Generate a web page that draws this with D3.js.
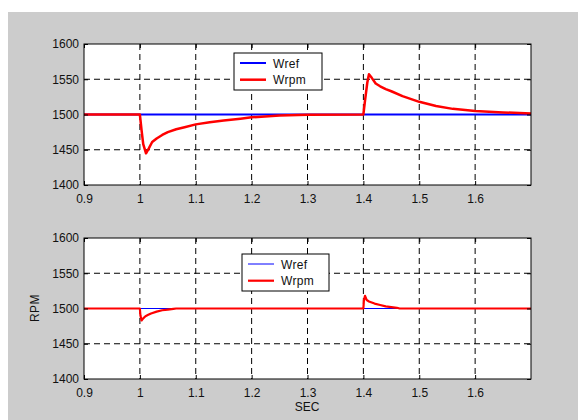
<!DOCTYPE html>
<html>
<head>
<meta charset="utf-8">
<script src="https://cdn.jsdelivr.net/npm/d3@7"></script>
<style>
  body { margin: 0; background: #fff; }
  text { font-family: "Liberation Sans", Arial, sans-serif; }
</style>
</head>
<body>
<div id="chart"></div>
<script>
// time ticks and y ticks
const xTicks = [0.9, 1, 1.1, 1.2, 1.3, 1.4, 1.5, 1.6];
const xTickLabels = ["0.9", "1", "1.1", "1.2", "1.3", "1.4", "1.5", "1.6"];
const yTicks = [1400, 1450, 1500, 1550, 1600];
const seriesNames = ["Wref", "Wrpm"];

// upper plot
const refT = [0.9, 1.7];
const refRpm = [1500, 1500];
const topT = [0.9, 1.0, 1.003, 1.006, 1.011, 1.016, 1.022, 1.03, 1.04, 1.05, 1.065, 1.08, 1.1, 1.125, 1.15, 1.18, 1.2, 1.25, 1.3,
              1.4, 1.403, 1.407, 1.41, 1.415, 1.422, 1.43, 1.44, 1.45, 1.47, 1.5, 1.53, 1.56, 1.6, 1.65, 1.7];
const topRpm = [1500, 1500, 1478, 1458, 1445, 1452, 1461, 1466, 1471, 1475, 1479, 1482, 1486, 1489, 1491.5, 1494, 1496, 1498.5, 1499.7,
                1500, 1520, 1545, 1557, 1552, 1544, 1540, 1536, 1533, 1526, 1518, 1512, 1508, 1505, 1503, 1501.5];

// lower plot
const lowT = [0.9, 1.0, 1.001, 1.003, 1.006, 1.01, 1.015, 1.02, 1.03, 1.04, 1.05, 1.06, 1.065,
              1.4, 1.401, 1.403, 1.406, 1.41, 1.42, 1.43, 1.44, 1.45, 1.46, 1.465, 1.7];
const lowRpm = [1500, 1500, 1490, 1483, 1486, 1489, 1491, 1493, 1495.5, 1497.5, 1498.5, 1499.5, 1500,
                1500, 1512, 1518, 1512, 1510, 1507, 1505, 1503, 1502, 1501, 1500, 1500];

const W = 578, H = 420;
let svg = d3.select("#chart").append("svg").attr("width", W).attr("height", H);

// figure background
svg.append("rect").attr("x", 8).attr("y", 12).attr("width", W - 8).attr("height", H - 12).attr("fill", "#cccccc");

function drawPanel(top, bottom, ref, act, refW, actW, legend) {
    let x = d3.scaleLinear().domain([0.9, 1.7]).range([84, 531]);
    let y = d3.scaleLinear().domain([1400, 1600]).range([bottom, top]);
    let g = svg.append("g");

    g.append("rect").attr("x", x(0.9)).attr("y", top).attr("width", x(1.7) - x(0.9)).attr("height", bottom - top).attr("fill", "#fff");

    // dashed grid
    g.selectAll(".vg").data(xTicks.slice(1)).join("line")
        .attr("x1", d => x(d)).attr("x2", d => x(d)).attr("y1", top).attr("y2", bottom)
        .attr("stroke", "#000").attr("stroke-width", 1).attr("stroke-dasharray", "6,4");
    g.selectAll(".hg").data(yTicks.slice(1, -1)).join("line")
        .attr("x1", x(0.9)).attr("x2", x(1.7)).attr("y1", d => y(d)).attr("y2", d => y(d))
        .attr("stroke", "#000").attr("stroke-width", 1).attr("stroke-dasharray", "6,4");

    let line = d3.line().x(d => x(d[0])).y(d => y(d[1]));
    g.append("path").attr("d", line(d3.zip(ref[0], ref[1])))
        .attr("stroke", "#0000ff").attr("stroke-width", refW).attr("fill", "none");
    g.append("path").attr("d", line(d3.zip(act[0], act[1])))
        .attr("stroke", "#ff0000").attr("stroke-width", actW).attr("fill", "none").attr("stroke-linejoin", "round");

    // axes with inward ticks
    g.append("g").attr("transform", `translate(0,${bottom})`)
        .call(d3.axisBottom(x).tickValues(xTicks).tickFormat((d, i) => xTickLabels[i]).tickSizeInner(-4).tickSizeOuter(0).tickPadding(9));
    g.append("g").attr("transform", `translate(${x(0.9)},0)`)
        .call(d3.axisLeft(y).tickValues(yTicks).tickFormat(d3.format("d")).tickSizeInner(-4).tickSizeOuter(0).tickPadding(5));
    g.append("g").attr("transform", `translate(0,${top})`)
        .call(d3.axisTop(x).tickValues(xTicks).tickFormat("").tickSizeInner(-4).tickSizeOuter(0));
    g.append("g").attr("transform", `translate(${x(1.7)},0)`)
        .call(d3.axisRight(y).tickValues(yTicks).tickFormat("").tickSizeInner(-4).tickSizeOuter(0));
    g.selectAll(".domain").remove();
    g.selectAll(".tick line").attr("stroke", "#000");
    g.selectAll(".tick text").attr("fill", "#111").style("font-size", "12px").style("font-family", '"Liberation Sans", Arial, sans-serif');

    g.append("rect").attr("x", x(0.9)).attr("y", top).attr("width", x(1.7) - x(0.9)).attr("height", bottom - top)
        .attr("fill", "none").attr("stroke", "#000").attr("stroke-width", 1);

    // legend
    let lg = g.append("g");
    lg.append("rect").attr("x", legend.x).attr("y", legend.y).attr("width", legend.w).attr("height", legend.h)
        .attr("fill", "#fff").attr("stroke", "#000").attr("stroke-width", 1);
    const cols = ["#0000ff", "#ff0000"];
    const widths = [legend.refW, actW];
    seriesNames.forEach((n, i) => {
        let yy = legend.y + 10 + i * 16.7;
        lg.append("line").attr("x1", legend.x + 6).attr("x2", legend.x + 32).attr("y1", yy).attr("y2", yy)
            .attr("stroke", cols[i]).attr("stroke-width", widths[i]);
        lg.append("text").attr("x", legend.x + 39).attr("y", yy + 4.5).text(n)
            .style("font-size", "12px").attr("fill", "#111").attr("letter-spacing", "0.3px");
    });
}

drawPanel(44, 185, [refT, refRpm], [topT, topRpm], 2, 2.5, { x: 234, y: 53, w: 88, h: 37, refW: 2 });
drawPanel(238, 379, [refT, refRpm], [lowT, lowRpm], 1, 2.2, { x: 242, y: 254, w: 87, h: 37, refW: 1 });

// axis titles
svg.append("text").attr("x", 307).attr("y", 411).attr("text-anchor", "middle").style("font-size", "12px").attr("fill", "#111").text("SEC");
svg.append("text").attr("transform", "translate(39,308) rotate(-90)").attr("text-anchor", "middle")
    .style("font-size", "12px").attr("fill", "#111").attr("letter-spacing", "0.5px").text("RPM");
</script>
</body>
</html>
